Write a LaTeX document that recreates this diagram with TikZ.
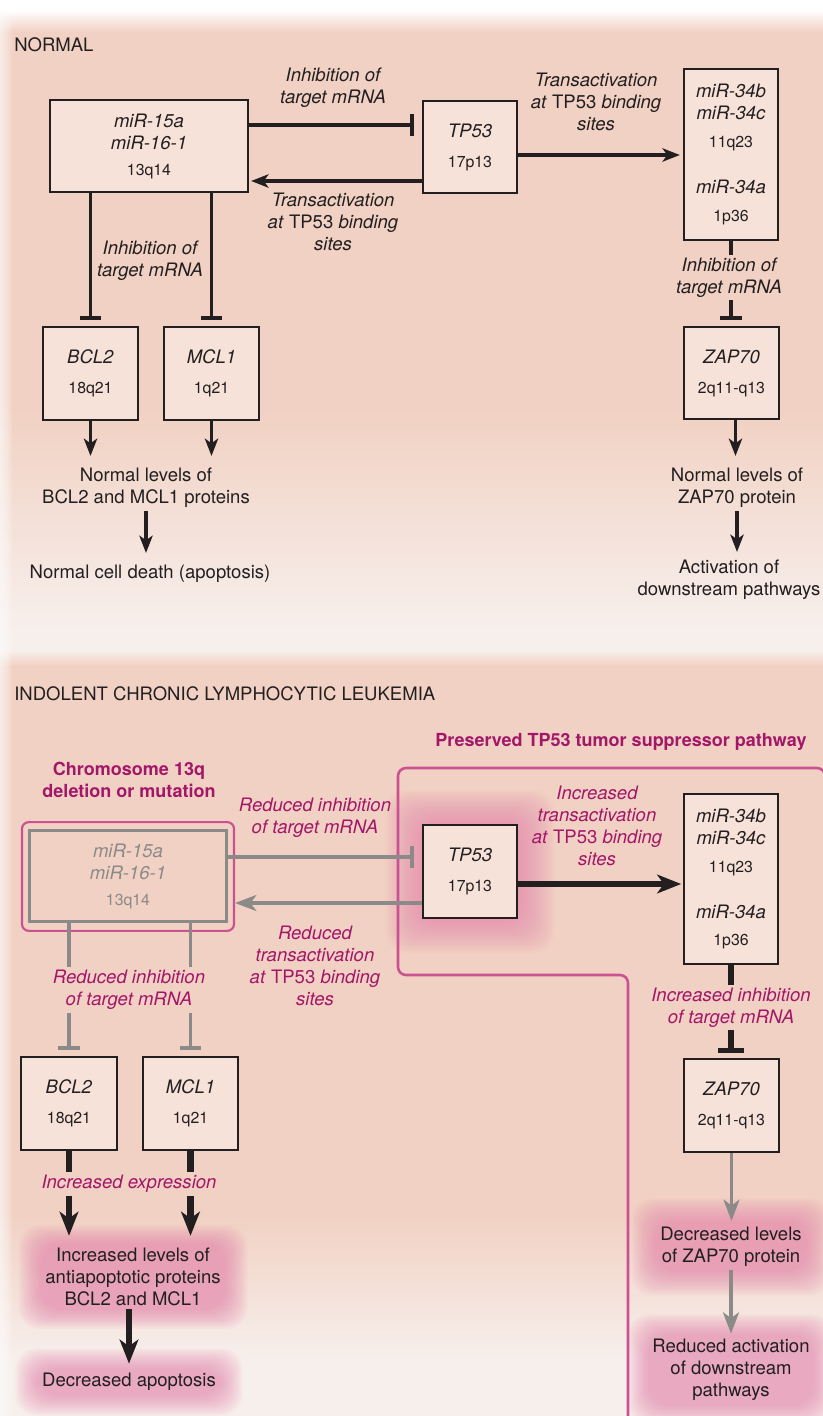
\documentclass[tikz,border=0pt]{standalone}
\usepackage{fontspec}
\setmainfont{TeX Gyre Heros}
\usetikzlibrary{arrows.meta,calc}

\definecolor{bgpink}{RGB}{241,209,195}
\definecolor{bgfade}{RGB}{247,239,236}
\definecolor{boxfill}{RGB}{247,226,218}
\definecolor{boxline}{RGB}{35,31,32}
\definecolor{magtext}{RGB}{163,22,104}
\definecolor{magline}{RGB}{202,82,146}
\definecolor{lossgray}{RGB}{140,137,137}
\definecolor{glowpink}{RGB}{232,125,170}

\pgfdeclarelayer{back}
\pgfdeclarelayer{glow}
\pgfsetlayers{back,glow,main}

\newcommand{\bandfont}{\fontsize{11.9}{16.5}\selectfont}
\newcommand{\pinkglow}[3]{%
  \foreach \k in {0,...,15}
    \fill[glowpink, opacity=0.05, rounded corners=16pt]
      ($(#1.south west)+({-#2+#2*\k/16},{#3-#3*\k/16})$) rectangle
      ($(#1.north east)+({#2-#2*\k/16},{-#3+#3*\k/16})$);
}

\tikzset{every picture/.style={line width=0.75pt}}
\tikzset{
  every node/.style={font=\fontsize{13.9}{16.5}\selectfont, text=boxline},
  gene/.style={draw=boxline, fill=boxfill, line width=1.7pt, inner sep=0pt, align=center},
  smallgene/.style={gene, minimum width=71.5pt, minimum height=69.5pt},
  lost/.style={draw=lossgray, line width=2.2pt, inner sep=0pt, align=center, text=lossgray},
  txt/.style={align=center, inner sep=2pt},
  lab/.style={align=center, inner sep=2pt, font=\fontsize{13.9}{16.5}\selectfont\itshape},
  maglab/.style={lab, text=magtext},
  magtitle/.style={align=center, inner sep=2pt, text=magtext, font=\fontsize{13.5}{16.5}\selectfont\bfseries},
  head/.style={anchor=west, inner sep=0pt},
  arr/.style={draw=boxline, line width=2.3pt, -{Stealth[length=13pt,width=10pt,inset=3.5pt]}},
  bigarr/.style={draw=boxline, line width=5pt, -{Stealth[length=18pt,width=14pt,inset=5pt]}},
  lossarr/.style={draw=lossgray, line width=2.4pt, -{Stealth[length=16pt,width=12pt,inset=4.5pt]}},
  inh/.style={draw=boxline, line width=2.3pt, -{Bar[width=16pt,line width=3pt]}},
  biginh/.style={draw=boxline, line width=5pt, -{Bar[width=19pt,line width=3.2pt]}},
  lossinh/.style={draw=lossgray, line width=2.4pt, -{Bar[width=16pt,line width=3pt]}},
  seg/.style={draw=boxline, line width=2.3pt},
  bigseg/.style={draw=boxline, line width=5pt},
  lossseg/.style={draw=lossgray, line width=2.4pt},
  totext/.style={shorten >=7pt}
}

\begin{document}
\begin{tikzpicture}[x=0.75pt,y=0.75pt,yscale=-1,xscale=1]
\useasboundingbox (0,0) rectangle (823,1416);

%Background panels
\begin{pgfonlayer}{back}
\fill[white] (0,0) rectangle (823,1416);
\shade[top color=white, bottom color=bgpink] (0,10) rectangle (823,32);
\fill[bgpink] (0,32) rectangle (823,410);
\shade[top color=bgpink, bottom color=bgfade] (0,410) rectangle (823,630);
\fill[bgfade] (0,630) rectangle (823,650);
\shade[top color=bgfade, bottom color=bgpink] (0,650) rectangle (823,666);
\fill[bgpink] (0,666) rectangle (823,1215);
\shade[top color=bgpink, bottom color=bgfade] (0,1215) rectangle (823,1360);
\fill[bgfade] (0,1360) rectangle (823,1416);
\foreach \i in {1,...,6}
  \fill[white, opacity=0.15] (0,0) rectangle (2*\i,1416);
\end{pgfonlayer}

%%%%%%%%%%%%%%%% NORMAL %%%%%%%%%%%%%%%%
% Text Node
\node[head] (normHd) at (14,45) {NORMAL};

%Shape: Rectangle
\node[gene, minimum width=148.5pt, minimum height=69pt] (mirA) at (149,146)
  {\textit{miR-15a}\\\textit{miR-16-1}\\[3pt]{\bandfont 13q14}};
\node[gene, minimum width=71pt, minimum height=69pt] (tpA) at (470,147)
  {\textit{TP53}\\[6pt]{\bandfont 17p13}};
\node[gene, minimum width=71pt, minimum height=128pt] (mirB) at (731,154.5)
  {\textit{miR-34b}\\\textit{miR-34c}\\[4.5pt]{\bandfont 11q23}\\[18pt]\textit{miR-34a}\\[4pt]{\bandfont 1p36}};
\node[smallgene] (zapA) at (731.5,373) {\textit{ZAP70}\\[6pt]{\bandfont 2q11-q13}};
\node[smallgene] (bclA) at (90.5,373.5) {\textit{BCL2}\\[6pt]{\bandfont 18q21}};
\node[smallgene] (mclA) at (211.5,373.5) {\textit{MCL1}\\[6pt]{\bandfont 1q21}};

% Text Node
\node[lab] (labInhA) at (333,88) {Inhibition of\\target mRNA};
\node[lab] (labTrA) at (333,221.5) {Transactivation\\at \textup{TP53} binding\\sites};
\node[lab] (labTrB) at (596,102) {Transactivation\\at \textup{TP53} binding\\sites};
\node[lab] (labInhB) at (150,260.5) {Inhibition of\\target mRNA};
\node[lab] (labInhC) at (729,277.5) {Inhibition of\\target mRNA};
\node[txt] (levA) at (146,488) {Normal levels of\\BCL2 and MCL1 proteins};
\node[txt] (deathA) at (150,574) {Normal cell death (apoptosis)};
\node[txt] (zlevA) at (737,488) {Normal levels of\\ZAP70 protein};
\node[txt] (actA) at (729,580) {Activation of\\downstream pathways};

%Straight Lines
\draw[inh, shorten >=6pt] ($(mirA.east)+(0,-21)$) coordinate (r1) -- (r1 -| tpA.west);
\draw[arr, shorten >=1.5pt] ($(tpA.west)+(0,34)$) coordinate (r2) -- (r2 -| mirA.east);
\draw[arr, shorten >=2pt] ($(tpA.east)+(0,8)$) coordinate (r3) -- (r3 -| mirB.west);
\draw[inh, shorten >=4.5pt] (bclA |- mirA.south) -- (bclA.north);
\draw[inh, shorten >=4.5pt] (mclA |- mirA.south) -- (mclA.north);
\draw[seg] (mirB.south) -- (mirB.south |- labInhC.north);
\draw[inh, shorten >=4.5pt] (mirB.south |- labInhC.south) -- (mirB.south |- zapA.north);
\draw[arr, totext] (bclA.south) -- (bclA.south |- levA.north);
\draw[arr, totext] (mclA.south) -- (mclA.south |- levA.north);
\draw[arr, totext] (levA.south) -- (levA.south |- deathA.north);
\draw[arr, totext] ($(zapA.south)+(4,0)$) coordinate (r4) -- (r4 |- zlevA.north);
\draw[arr, shorten >=4pt] (zlevA.south) -- (zlevA.south |- actA.north);

%%%%%%%%%%%%%%%% INDOLENT CLL %%%%%%%%%%%%%%%%
% Text Node
\node[head] (cllHd) at (14,694) {INDOLENT CHRONIC LYMPHOCYTIC LEUKEMIA};
\node[magtitle] (chromLb) at (129,780) {Chromosome 13q\\deletion or mutation};
\node[magtitle] (presLb) at (621,742) {Preserved TP53 tumor suppressor pathway};

%Shape: Rectangle
\node[draw=magline, line width=1.6pt, rounded corners=5pt, minimum width=159pt, minimum height=81.5pt] (delBox) at (128,876.5) {};
\node[lost, minimum width=147.75pt, minimum height=68.25pt] (mirC) at (128,876)
  {\textit{miR-15a}\\\textit{miR-16-1}\\[3pt]{\bandfont 13q14}};
\node[gene, minimum width=71pt, minimum height=69.5pt] (tpB) at (470,871.5)
  {\textit{TP53}\\[6pt]{\bandfont 17p13}};
\node[gene, minimum width=71pt, minimum height=127.5pt] (mirD) at (731,879)
  {\textit{miR-34b}\\\textit{miR-34c}\\[4.5pt]{\bandfont 11q23}\\[18pt]\textit{miR-34a}\\[4pt]{\bandfont 1p36}};
\node[smallgene] (zapB) at (731.5,1105.5) {\textit{ZAP70}\\[6pt]{\bandfont 2q11-q13}};
\node[smallgene] (bclB) at (69,1103.5) {\textit{BCL2}\\[6pt]{\bandfont 18q21}};
\node[smallgene] (mclB) at (190.5,1103.5) {\textit{MCL1}\\[6pt]{\bandfont 1q21}};

%Preserved pathway frame
\draw[magline, line width=1.9pt, rounded corners=6pt]
  (628,1420) -- (628,975) -- (398,975) -- (398,768) -- (825,768) -- (825,1420);

% Text Node
\node[maglab] (labRedA) at (315,817.5) {Reduced inhibition\\of target mRNA};
\node[maglab] (labRedB) at (315,965.5) {Reduced\\transactivation\\at \textup{TP53} binding\\sites};
\node[maglab] (labIncA) at (597,825.5) {Increased\\transactivation\\at \textup{TP53} binding\\sites};
\node[maglab] (labRedC) at (129,990) {Reduced inhibition\\of target mRNA};
\node[maglab] (labIncB) at (731,1007.5) {Increased inhibition\\of target mRNA};
\node[maglab] (labExp) at (129,1184) {Increased expression};
\node[txt] (incLev) at (133,1277) {Increased levels of\\antiapoptotic proteins\\BCL2 and MCL1};
\node[txt] (decAp) at (129,1382) {Decreased apoptosis};
\node[txt] (zlevB) at (731,1247) {Decreased levels\\of ZAP70 protein};
\node[txt] (actB) at (731,1370) {Reduced activation\\of downstream\\pathways};

%Glows
\begin{pgfonlayer}{glow}
\pinkglow{tpB}{36}{34}
\pinkglow{incLev}{24}{20}
\pinkglow{decAp}{24}{22}
\pinkglow{zlevB}{26}{26}
\pinkglow{actB}{22}{22}
\end{pgfonlayer}

%Straight Lines
\draw[lossinh, shorten >=6pt] ($(mirC.east)+(0,-19)$) coordinate (s1) -- (s1 -| tpB.west);
\draw[lossarr] ($(tpB.west)+(0,31.5)$) coordinate (s2) -- (s2 -| delBox.east);
\draw[bigarr, shorten >=1pt] ($(tpB.east)+(0,12.5)$) coordinate (s3) -- (s3 -| mirD.west);
\draw[lossseg] (bclB |- mirC.south) -- (bclB |- labRedC.north);
\draw[lossinh, shorten >=4.5pt] (bclB |- labRedC.south) -- (bclB.north);
\draw[lossseg] (mclB |- mirC.south) -- (mclB |- labRedC.north);
\draw[lossinh, shorten >=4.5pt] (mclB |- labRedC.south) -- (mclB.north);
\draw[bigseg] (mirD.south) -- (mirD.south |- labIncB.north);
\draw[biginh, shorten >=4pt] (mirD.south |- labIncB.south) -- (mirD.south |- zapB.north);
\draw[bigseg] (bclB.south) -- (bclB.south |- labExp.north);
\draw[bigseg] (mclB.south) -- (mclB.south |- labExp.north);
\draw[bigarr, totext] (bclB.south |- labExp.south) -- (bclB.south |- incLev.north);
\draw[bigarr, totext] (mclB.south |- labExp.south) -- (mclB.south |- incLev.north);
\draw[bigarr, shorten >=5pt] (decAp |- incLev.south) -- (decAp.north);
\draw[lossarr, shorten >=2.5pt] (zapB.south) -- (zapB.south |- zlevB.north);
\draw[lossarr, shorten >=2pt] (zlevB.south) -- (zlevB.south |- actB.north);

\end{tikzpicture}
\end{document}
